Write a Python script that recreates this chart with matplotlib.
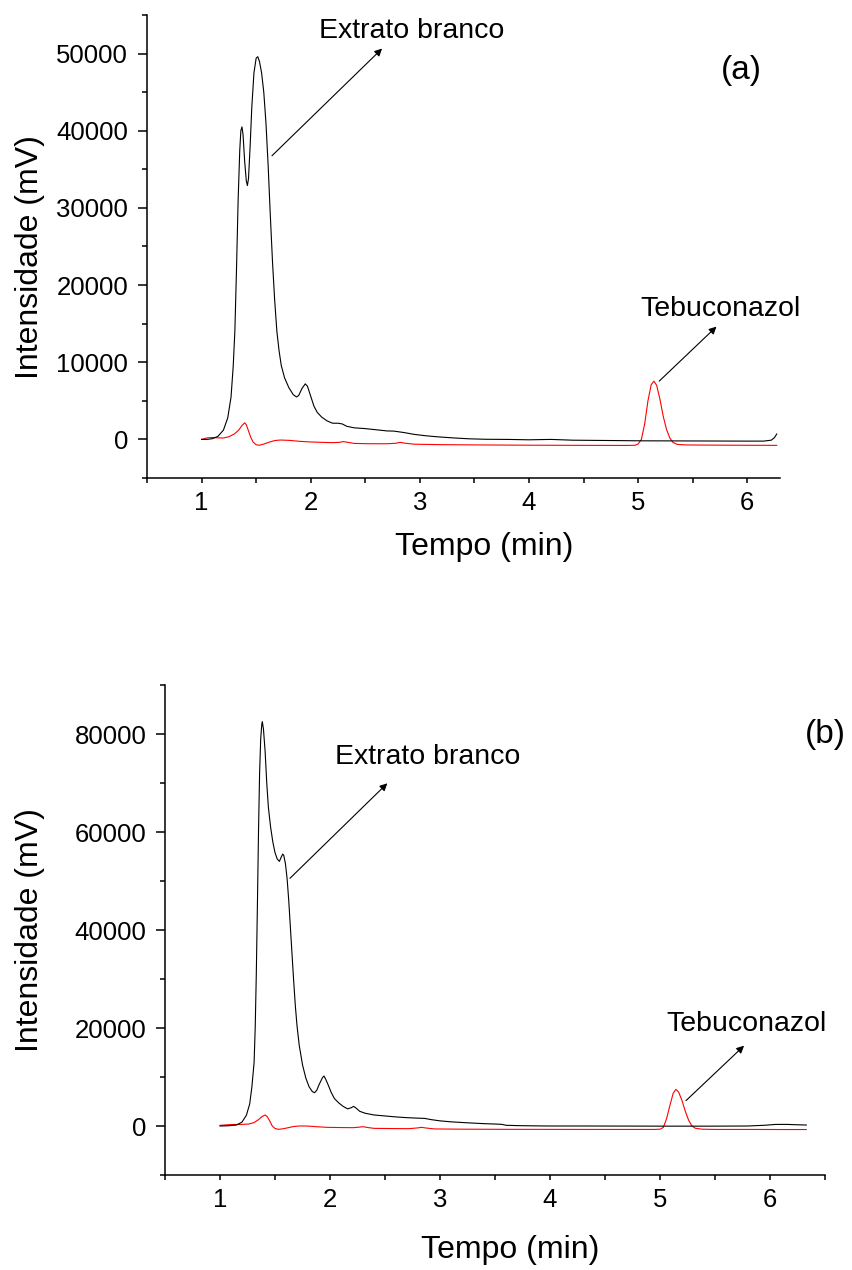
import matplotlib
matplotlib.use("Agg")
import matplotlib.pyplot as plt
from matplotlib.ticker import MultipleLocator

plt.rcParams['font.family'] = ['Liberation Sans', 'DejaVu Sans']

# ---------------- data: panel (a) ----------------
a_black_t = [1.00, 1.05, 1.10, 1.15, 1.20, 1.24, 1.27, 1.29, 1.305, 1.32, 1.335, 1.35, 1.36, 1.37,
             1.38, 1.395, 1.41, 1.42, 1.43, 1.445, 1.46, 1.48, 1.50, 1.515, 1.53, 1.55, 1.57, 1.59,
             1.61, 1.63, 1.65, 1.67, 1.69, 1.71, 1.73, 1.76, 1.80, 1.84, 1.87, 1.89, 1.92, 1.95,
             1.97, 2.00, 2.03, 2.06, 2.10, 2.15, 2.20, 2.25, 2.29, 2.33, 2.40, 2.50, 2.60, 2.70,
             2.76, 2.85, 2.95, 3.05, 3.15, 3.30, 3.45, 3.60, 3.80, 4.00, 4.20, 4.40, 4.80, 5.00,
             5.50, 6.00, 6.15, 6.22, 6.25, 6.27]
a_black_y = [0, 0, 100, 400, 1200, 2800, 5500, 9500, 14000, 22000, 31000, 37500, 40000, 40500,
             39500, 36000, 33500, 32900, 33800, 38000, 43000, 47500, 49400, 49600, 49000, 47500, 45000, 41000,
             35500, 29000, 23000, 18000, 14000, 11500, 9600, 8000, 6700, 5800, 5500, 5700, 6600, 7200,
             6900, 5600, 4300, 3500, 2900, 2400, 2100, 2100, 2000, 1700, 1500, 1400, 1250, 1100,
             1080, 900, 650, 480, 350, 200, 80, 20, 0, -50, 0, -100, -150, -180,
             -200, -220, -220, -100, 250, 700]

a_red_t = [1.00, 1.05, 1.10, 1.15, 1.20, 1.25, 1.30, 1.34, 1.37, 1.395, 1.41, 1.43, 1.45, 1.47,
           1.50, 1.53, 1.57, 1.62, 1.67, 1.72, 1.80, 1.90, 2.00, 2.10, 2.20, 2.26, 2.30, 2.34,
           2.40, 2.55, 2.70, 2.78, 2.82, 2.86, 2.95, 3.20, 3.60, 4.00, 4.50, 4.90, 4.97, 5.00,
           5.03, 5.06, 5.09, 5.12, 5.145, 5.17, 5.20, 5.23, 5.26, 5.29, 5.32, 5.36, 5.45, 5.70,
           6.00, 6.27]
a_red_y = [0, 200, 250, 200, 180, 350, 700, 1200, 1800, 2150, 1900, 1100, 300, -300,
           -700, -750, -600, -350, -150, -80, -120, -250, -330, -380, -420, -380, -280, -380,
           -520, -560, -560, -500, -380, -480, -620, -680, -720, -750, -770, -780, -760, -600,
           0, 2000, 5000, 7100, 7550, 7000, 5200, 3000, 1300, 200, -400, -650, -720, -740,
           -760, -770]

# ---------------- data: panel (b) ----------------
b_black_t = [1.00, 1.08, 1.15, 1.20, 1.24, 1.27, 1.29, 1.31, 1.32, 1.33, 1.34, 1.35, 1.36, 1.37,
             1.38, 1.385, 1.395, 1.41, 1.425, 1.44, 1.46, 1.48, 1.50, 1.52, 1.54, 1.555, 1.57, 1.58,
             1.595, 1.61, 1.625, 1.64, 1.655, 1.67, 1.685, 1.70, 1.72, 1.75, 1.78, 1.81, 1.84, 1.86,
             1.88, 1.90, 1.93, 1.945, 1.96, 1.985, 2.01, 2.04, 2.08, 2.12, 2.16, 2.19, 2.215, 2.24,
             2.27, 2.32, 2.40, 2.50, 2.60, 2.70, 2.80, 2.86, 2.92, 3.00, 3.10, 3.25, 3.40, 3.50,
             3.56, 3.60, 3.70, 3.85, 4.00, 4.30, 4.80, 5.00, 5.50, 5.80, 5.95, 6.05, 6.15, 6.25, 6.33]
b_black_y = [0, 50, 200, 800, 2200, 4500, 8000, 13000, 20000, 31000, 45000, 60000, 72000, 79000,
             82000, 82500, 81000, 76500, 70000, 65000, 61000, 58000, 55800, 54500, 54000, 54800, 55500, 55200,
             53500, 50500, 46000, 40500, 35000, 29500, 24500, 20500, 16500, 12500, 9800, 8000, 7000, 6800,
             7300, 8400, 9800, 10200, 9600, 8300, 6900, 5600, 4700, 4000, 3500, 3700, 4000, 3600,
             3000, 2600, 2250, 2050, 1850, 1700, 1600, 1550, 1300, 1050, 850, 650, 480, 400,
             340, 150, 80, 30, 0, 0, -20, -30, -30, 0, 150, 320, 330, 250, 200]

b_red_t = [1.00, 1.10, 1.20, 1.26, 1.31, 1.35, 1.38, 1.41, 1.43, 1.455, 1.475, 1.50, 1.53, 1.57,
           1.62, 1.67, 1.72, 1.79, 1.88, 1.97, 2.10, 2.21, 2.26, 2.30, 2.34, 2.40, 2.55, 2.72,
           2.80, 2.83, 2.87, 2.95, 3.20, 3.60, 4.00, 4.50, 4.95, 5.00, 5.03, 5.06, 5.09, 5.12,
           5.145, 5.17, 5.20, 5.23, 5.26, 5.29, 5.32, 5.38, 5.50, 5.80, 6.10, 6.33]
b_red_y = [130, 300, 330, 400, 700, 1300, 1900, 2250, 1900, 900, 0, -500, -680, -580,
           -350, -100, 0, 0, -150, -270, -320, -340, -250, -140, -300, -480, -520, -545,
           -380, -270, -400, -600, -650, -680, -690, -700, -700, -650, -300, 1500, 4200, 6700,
           7480, 6900, 5200, 3000, 1200, 0, -450, -650, -700, -700, -720, -720]

x_ticks = [1, 2, 3, 4, 5, 6]
x_tick_labels = ['1', '2', '3', '4', '5', '6']
a_y_ticks = [0, 10000, 20000, 30000, 40000, 50000]
b_y_ticks = [0, 20000, 40000, 60000, 80000]

xlabel = 'Tempo (min)'
ylabel = 'Intensidade (mV)'

fig = plt.figure(figsize=(8.52, 12.70), dpi=100)

ax1 = fig.add_axes([147/852, 1-478/1270, (780-147)/852, (478-15)/1270])
ax2 = fig.add_axes([165/852, 1-1175/1270, (825-165)/852, (1175-685)/1270])

TICK_FS = 18.5
LABEL_FS = 23
ANN_FS = 20.5


def style(ax, yticks, ymin, ymax, xmax, yminor):
    for s in ['top', 'right']:
        ax.spines[s].set_visible(False)
    for s in ['left', 'bottom']:
        ax.spines[s].set_linewidth(1.1)
    ax.set_xlim(0.5, xmax)
    ax.set_ylim(ymin, ymax)
    ax.set_xticks(x_ticks)
    ax.set_xticklabels(x_tick_labels)
    ax.set_yticks(yticks)
    ax.set_yticklabels([str(v) for v in yticks])
    ax.xaxis.set_minor_locator(MultipleLocator(0.5))
    ax.yaxis.set_minor_locator(MultipleLocator(yminor))
    ax.tick_params(axis='x', which='both', direction='out', length=3.6, width=1.1,
                   labelsize=TICK_FS, pad=6)
    ax.tick_params(axis='y', which='major', direction='out', length=6.5, width=1.1,
                   labelsize=TICK_FS, pad=7)
    ax.tick_params(axis='y', which='minor', direction='out', length=3.6, width=1.1)
    ax.set_xlabel(xlabel, fontsize=LABEL_FS)
    ax.set_ylabel(ylabel, fontsize=LABEL_FS)
    ax.xaxis.label.set_va('center')
    ax.yaxis.label.set_va('center')


# ---- panel (a)
ax1.plot(a_red_t, a_red_y, color='#ff0000', lw=0.8)
ax1.plot(a_black_t, a_black_y, color='black', lw=0.8)
style(ax1, a_y_ticks, -5000, 55000, 6.3, 5000)
ax1.xaxis.set_label_coords((484-147)/633, (478-547)/463)
ax1.yaxis.set_label_coords((30-147)/633, (478-257)/463)

arrow = dict(arrowstyle='-|>', mutation_scale=11, lw=0.8, color='black', shrinkA=0, shrinkB=0)
ax1.annotate('', xy=(2.654, 50650), xytext=(1.645, 36760), arrowprops=arrow)
ax1.text(2.073, 52045, 'Extrato branco', fontsize=ANN_FS, ha='left', va='baseline')
ax1.annotate('', xy=(5.718, 14620), xytext=(5.193, 7550), arrowprops=arrow)
ax1.text(5.025, 16055, 'Tebuconazol', fontsize=ANN_FS, ha='left', va='baseline')
ax1.text(5.759, 46745, '(a)', fontsize=24, ha='left', va='baseline')

# ---- panel (b)
ax2.plot(b_red_t, b_red_y, color='#ff0000', lw=0.8)
ax2.plot(b_black_t, b_black_y, color='black', lw=0.8)
style(ax2, b_y_ticks, -10000, 90000, 6.5, 10000)
ax2.xaxis.set_label_coords((510-165)/660, (1175-1250)/490)
ax2.yaxis.set_label_coords((30-165)/660, 0.5)

ax2.annotate('', xy=(2.521, 69940), xytext=(1.636, 50550), arrowprops=arrow)
ax2.text(2.045, 73880, 'Extrato branco', fontsize=ANN_FS, ha='left', va='baseline')
ax2.annotate('', xy=(5.764, 16390), xytext=(5.236, 5170), arrowprops=arrow)
ax2.text(5.055, 19450, 'Tebuconazol', fontsize=ANN_FS, ha='left', va='baseline')
ax2.text(6.318, 78160, '(b)', fontsize=24, ha='left', va='baseline', clip_on=False)

fig.savefig('out.png', dpi=100)
